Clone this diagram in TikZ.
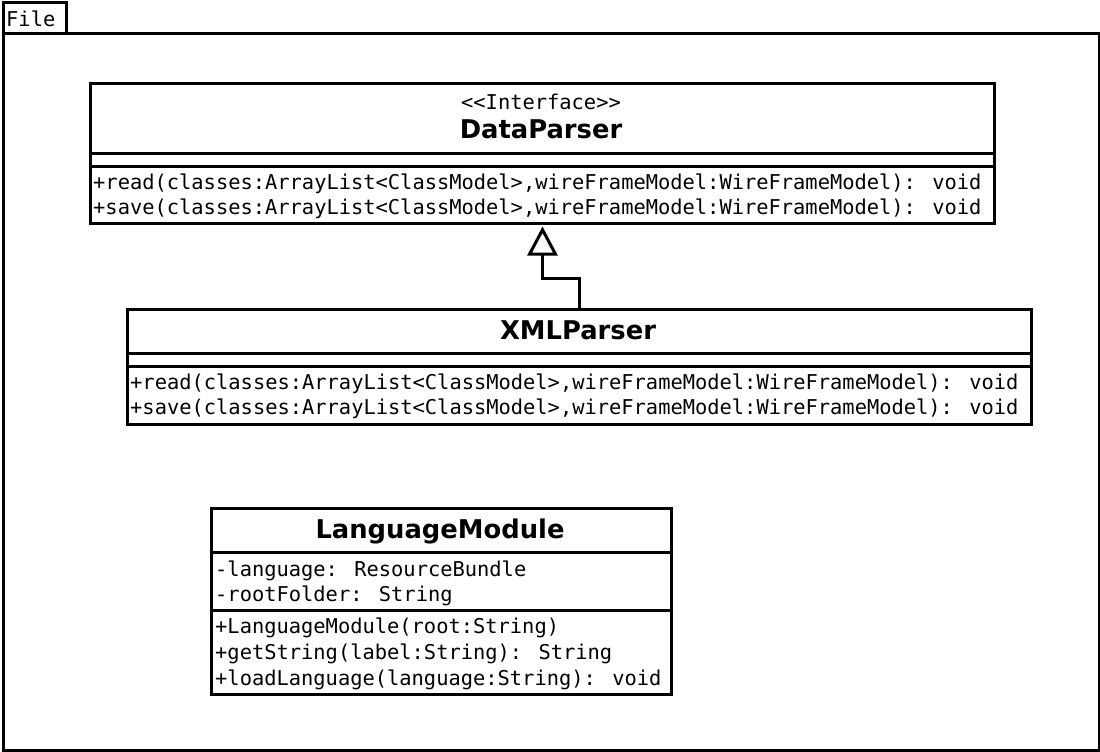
\documentclass[tikz,border=0pt]{standalone}
\usepackage{fontspec}
\newfontfamily\monof{DejaVu Sans Mono}
\newfontfamily\sansf{DejaVu Sans}
\usetikzlibrary{arrows.meta}
\begin{document}
\begin{tikzpicture}[x=1pt,y=-1pt,
  box/.style={draw,line width=3pt,inner sep=0pt,anchor=north west},
  mono/.style={inner sep=0pt,anchor=base west,font=\monof\fontsize{20.4}{25}\selectfont},
  stereo/.style={inner sep=0pt,anchor=base,font=\monof\fontsize{20.4}{25}\selectfont},
  cname/.style={inner sep=0pt,anchor=base,font=\sansf\bfseries\fontsize{25.8}{30}\selectfont}]
\useasboundingbox (0,0) rectangle (1100,752);
% package frame
\node[box,minimum width=63pt,minimum height=31pt] (tab) at (1.5,1.5) {};
\node[box,minimum width=1096pt,minimum height=716pt] (frame) at (1.5,32.5) {};
\node[mono] (tabtxt) at (6,27) {File};
% DataParser
\node[box,minimum width=904pt,minimum height=70pt] (dp) at (89,82) {};
\node[box,minimum width=904pt,minimum height=13pt] (dpattr) at (89,152) {};
\node[box,minimum width=904pt,minimum height=57pt] (dpops) at (89,165) {};
\node[stereo] (dpst) at (541,109) {<<Interface>>};
\node[cname] (dpname) at (541,138) {DataParser};
\node[mono] (dpo1) at (93,189) {+read(classes:ArrayList<ClassModel>,wireFrameModel:WireFrameModel): void};
\node[mono] (dpo2) at (93,214) {+save(classes:ArrayList<ClassModel>,wireFrameModel:WireFrameModel): void};
% XMLParser
\node[box,minimum width=904pt,minimum height=44pt] (xml) at (126,308) {};
\node[box,minimum width=904pt,minimum height=13pt] (xmlattr) at (126,352) {};
\node[box,minimum width=904pt,minimum height=58pt] (xmlops) at (126,365) {};
\node[cname] (xmlname) at (578,339) {XMLParser};
\node[mono] (xo1) at (130,389) {+read(classes:ArrayList<ClassModel>,wireFrameModel:WireFrameModel): void};
\node[mono] (xo2) at (130,414) {+save(classes:ArrayList<ClassModel>,wireFrameModel:WireFrameModel): void};
% LanguageModule
\node[box,minimum width=460pt,minimum height=44pt] (lm) at (210,507) {};
\node[box,minimum width=460pt,minimum height=58pt] (lmattr) at (210,551) {};
\node[box,minimum width=460pt,minimum height=84pt] (lmops) at (210,609) {};
\node[cname] (lmname) at (440,538) {LanguageModule};
\node[mono] (la1) at (215,576) {-language: ResourceBundle};
\node[mono] (la2) at (215,601) {-rootFolder: String};
\node[mono] (lo1) at (215,633) {+LanguageModule(root:String)};
\node[mono] (lo2) at (215,659) {+getString(label:String): String};
\node[mono] (lo3) at (215,685) {+loadLanguage(language:String): void};
% realization
\draw[line width=3pt,-{Triangle[open,length=29pt,width=30pt,line width=3pt]},shorten >=1.5pt]
  (xml.north) -- ++(0,-30) -| (dpops.south);
\end{tikzpicture}
\end{document}
